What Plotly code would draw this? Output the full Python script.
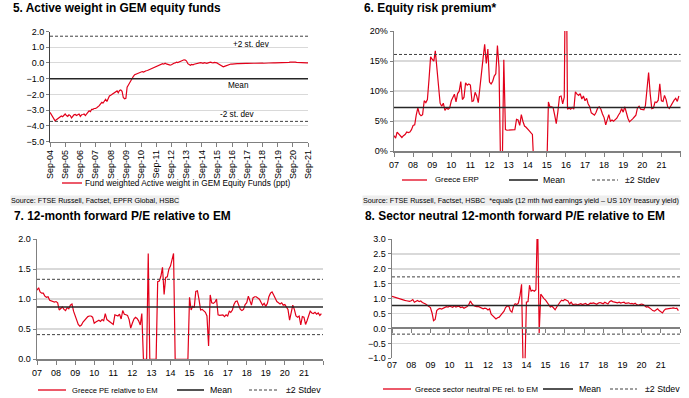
import pandas as pd
import plotly.graph_objects as go

W, H = 689, 398
FONT = "Liberation Sans, Arial, sans-serif"
RED = "#E2001A"
GRID = "#d9d9d9"

# ---------------- Panel 5: Active weight in GEM equity funds ----------------
aw_dates = pd.date_range("2004-09-01", "2021-09-01", freq="MS")
aw_values = [
    -3.15, -3.30, -3.45, -3.60, -3.68, -3.62, -3.55, -3.50, -3.45, -3.38, -3.42, -3.30,
    -3.25, -3.35, -3.40, -3.30, -3.35, -3.50, -3.38, -3.30, -3.28, -3.35, -3.30, -3.25,
    -3.40, -3.30, -3.28, -3.25, -3.35, -3.20, -3.15, -3.05, -3.10, -2.95, -2.95, -2.90,
    -2.90, -2.85, -2.80, -2.72, -2.60, -2.50, -2.55, -2.38, -2.32, -2.45, -2.25, -2.10,
    -2.05, -2.00, -1.95, -1.85, -1.80, -1.78, -1.90, -1.75, -1.72, -1.80, -2.20, -2.28,
    -2.25, -1.55, -1.40, -1.25, -1.10, -1.00, -0.85, -0.75, -0.72, -0.70, -0.65, -0.60,
    -0.60, -0.55, -0.58, -0.52, -0.50, -0.48, -0.45, -0.40, -0.38, -0.32, -0.30, -0.28,
    -0.25, -0.20, -0.15, -0.12, -0.08, -0.05, -0.08, -0.02, -0.06, -0.10, -0.12, -0.14,
    -0.12, -0.05, -0.02, 0.00, 0.05, 0.02, 0.06, 0.10, 0.12, 0.15, 0.20, 0.18,
    0.12, -0.05, -0.12, -0.15, -0.10, -0.12, -0.08, -0.05, -0.06, -0.02, 0.00, 0.02,
    0.00, -0.02, 0.02, 0.00, -0.03, 0.00, 0.03, 0.05, 0.02, 0.00, 0.03, 0.02,
    0.00, -0.05, -0.10, -0.12, -0.20, -0.25, -0.22, -0.18, -0.14, -0.10, -0.08, -0.07,
    -0.08, -0.06, -0.05, -0.06, -0.04, -0.05, -0.04, -0.03, -0.05, -0.03, -0.02, -0.03,
    -0.03, -0.02, -0.03, -0.02, -0.01, -0.02, -0.02, -0.01, -0.02, -0.01, -0.01, -0.02,
    -0.01, -0.02, -0.01, 0.00, -0.01, 0.00, 0.00, -0.01, 0.00, 0.01, 0.00, 0.00,
    0.00, 0.00, 0.01, 0.00, 0.01, 0.02, 0.01, 0.02, 0.03, 0.04, 0.05, 0.06,
    0.06, 0.05, 0.05, 0.04, 0.03, 0.02, 0.02, 0.01, 0.01, 0.00, 0.00, 0.00, 0.00,
]
aw_mean, aw_plus2, aw_minus2 = -1.0, 1.7, -3.72
aw_tick_years = list(range(2004, 2022))
aw_ticktext = ["Sep-%02d" % (y % 100) for y in aw_tick_years]
aw_tickvals = ["%d-09-01" % y for y in aw_tick_years]

# ---------------- shared monthly axis 2007-2021 ----------------
m_dates = pd.date_range("2007-01-01", "2021-12-01", freq="MS")
yr_list = list(range(2007, 2023))
yr_tickvals = ["%d-01-01" % y for y in yr_list]
yr_ticktext = ["%02d" % (y % 100) for y in yr_list[:-1]] + [""]

# ---------------- Panel 6: Equity risk premium (%) ----------------
erp_values = [
    2.6, 2.2, 3.2, 2.9, 2.5, 2.3, 2.6, 2.8, 3.2, 3.1, 3.2, 3.6,
    4.3, 4.4, 6.0, 7.2, 6.2, 5.9, 6.1, 8.4, 8.1, 8.6, 12.0, 15.7,
    15.3, 15.0, 16.7, 13.5, 10.5, 8.0, 7.5, 8.0, 6.8, 7.2, 7.0, 7.2,
    8.4, 9.0, 9.5, 8.2, 9.6, 10.0, 11.6, 8.6, 9.0, 11.4, 11.0, 11.2,
    11.0, 8.3, 8.4, 9.8, 9.2, 8.1, 10.2, 13.3, 15.5, 17.8, 14.6, 17.0,
    11.5, 11.2, 11.6, 12.5, 12.9, 17.6, 14.0, -3.0, -3.0, 15.2, 3.6, 3.5,
    3.5, 3.5, 3.5, 3.5, 3.6, 5.3, 5.2, 4.3, 6.1, 5.0, 4.2, 4.0,
    3.6, 3.4, 3.1, 2.8, -3.0, -3.0, -3.0, -3.0, -3.0, -3.0, -3.0, -3.0,
    -3.0, 8.2, 7.4, 7.4, 7.3, 6.0, 4.6, 6.6, 9.1, 9.2, 7.9, 9.0,
    40.0, 7.0, 7.2, 7.0, 7.3, 7.0, 9.9, 9.5, 9.3, 9.6, 8.7, 9.2,
    8.4, 8.8, 7.9, 7.4, 6.4, 6.2, 6.0, 6.5, 7.2, 7.4, 7.0, 6.2,
    5.6, 4.4, 5.2, 6.1, 5.0, 5.2, 5.0, 5.3, 5.5, 6.0, 6.4, 7.1,
    6.5, 7.4, 6.4, 5.5, 4.9, 5.1, 5.4, 5.7, 6.0, 7.2, 7.5, 7.0,
    6.9, 6.9, 7.6, 11.0, 13.1, 9.5, 7.1, 7.2, 8.2, 8.1, 8.5, 11.2,
    8.4, 8.3, 9.3, 8.6, 7.4, 7.1, 7.6, 8.0, 8.5, 8.8, 8.3, 9.2,
]
erp_mean, erp_plus2, erp_minus2 = 7.3, 16.1, -1.5

# ---------------- Panel 7: 12m fwd P/E relative to EM ----------------
pe_values = [
    1.15, 1.19, 1.12, 1.10, 1.10, 1.05, 1.03, 1.04, 0.98, 0.97, 0.97, 0.95,
    0.96, 0.94, 0.82, 0.85, 0.87, 0.83, 0.81, 0.86, 0.84, 0.90, 0.92, 0.80,
    0.72, 0.65, 0.58, 0.55, 0.57, 0.62, 0.65, 0.67, 0.71, 0.72, 0.72, 0.70,
    0.60, 0.62, 0.63, 0.65, 0.63, 0.66, 0.64, 0.76, 0.66, 0.64, 0.61, 0.60,
    0.58, 0.74, 0.73, 0.72, 0.75, 0.67, 0.81, 0.75, 0.74, 0.73, 0.66, 0.52,
    0.60, 0.67, 0.70, 0.68, 0.64, 0.57, 0.76, 0.00, 0.00, 0.00, 1.76, 0.00,
    0.00, 0.00, 0.00, 0.00, 1.29, 1.30, 1.38, 1.53, 1.08, 1.36, 1.37, 1.50,
    1.55, 1.68, 1.76, 0.00, 0.00, 0.00, 0.00, 0.00, 0.00, 0.00, 0.00, 0.00,
    1.03, 0.82, 0.88, 0.86, 1.13, 1.14, 1.00, 0.82, 0.83, 0.80, 0.78, 0.72,
    0.22, 1.07, 0.94, 0.93, 0.95, 1.00, 0.74, 0.73, 0.73, 0.74, 0.71, 0.74,
    0.72, 0.80, 0.78, 0.82, 0.91, 0.96, 0.97, 0.88, 0.83, 0.81, 0.83, 0.91,
    0.94, 1.05, 0.98, 0.90, 1.02, 1.04, 1.04, 1.02, 1.00, 0.95, 0.90, 0.93,
    0.88, 0.93, 1.04, 1.10, 1.12, 1.07, 1.02, 0.96, 0.94, 0.92, 0.94, 0.90,
    0.91, 0.87, 0.83, 0.65, 0.80, 0.90, 0.83, 0.72, 0.70, 0.72, 0.57, 0.71,
    0.70, 0.58, 0.64, 0.72, 0.80, 0.77, 0.76, 0.78, 0.75, 0.77, 0.73, 0.76,
]
pe_mean, pe_plus2, pe_minus2 = 0.87, 1.33, 0.41

# ---------------- Panel 8: Sector neutral 12m fwd P/E relative to EM ----------------
sn_values = [
    1.08, 1.06, 1.05, 1.03, 1.01, 0.99, 0.97, 0.96, 0.94, 0.93, 0.92, 0.91,
    0.93, 0.97, 0.88, 0.90, 0.94, 0.90, 0.92, 0.87, 0.85, 0.82, 0.78, 0.74,
    0.70, 0.52, 0.26, 0.30, 0.60, 0.65, 0.67, 0.65, 0.68, 0.71, 0.73, 0.72,
    0.75, 0.73, 0.71, 0.76, 0.72, 0.74, 0.74, 0.70, 0.72, 0.68, 0.71, 0.74,
    0.80, 0.92, 0.83, 0.77, 0.75, 0.73, 0.74, 0.71, 0.70, 0.66, 0.68, 0.67,
    0.62, 0.66, 0.48, 0.42, 0.38, 0.32, 0.36, 0.38, 0.45, 0.50, 0.58, 0.70,
    0.76, 0.75, 0.60, 0.55, 0.75, 0.83, 0.80, 0.85, 1.10, 1.48, -1.50, -1.50,
    0.88, 0.90, 1.45, 1.25, 1.28, 1.25, 1.30, 3.80, -0.15, 1.15, 1.05, 1.00,
    0.95, 0.88, 0.80, 0.72, 0.75, 0.68, 0.63, 0.72, 0.82, 0.88, 0.95, 0.93,
    0.97, 0.93, 0.92, 0.82, 0.88, 0.80, 0.80, 0.82, 0.79, 0.81, 0.83, 0.80,
    0.82, 0.84, 0.80, 0.81, 0.85, 0.84, 0.86, 0.83, 0.81, 0.85, 0.87, 0.85,
    0.83, 0.88, 0.85, 0.82, 0.90, 0.93, 0.90, 0.89, 0.88, 0.86, 0.88, 0.85,
    0.87, 0.88, 0.84, 0.85, 0.86, 0.83, 0.84, 0.82, 0.85, 0.80, 0.78, 0.80,
    0.82, 0.80, 0.76, 0.72, 0.73, 0.70, 0.65, 0.60, 0.58, 0.62, 0.66, 0.60,
    0.55, 0.52, 0.60, 0.65, 0.66, 0.66, 0.67, 0.68, 0.69, 0.67, 0.68, 0.60,
]
sn_mean, sn_plus2, sn_minus2 = 0.77, 1.73, -0.19

assert len(aw_values) == len(aw_dates)
assert len(erp_values) == len(m_dates) == len(pe_values) == len(sn_values)

titles = [
    "5. Active weight in GEM equity funds",
    "6. Equity risk premium*",
    "7. 12-month forward P/E relative to EM",
    "8. Sector neutral 12-month forward P/E relative to EM",
]
sources = [
    "Source: FTSE Russell, Factset, EPFR Global, HSBC",
    "Source: FTSE Russell, Factset, HSBC  *equals (12 mth fwd earnings yield \u2013 US 10Y treasury yield)",
]


def px(x):
    return x / W


def py(y):
    return 1 - y / H


fig = go.Figure()
line_style = dict(color=RED, width=1.2)
fig.add_trace(go.Scatter(x=aw_dates, y=aw_values, mode="lines", line=line_style, xaxis="x", yaxis="y"))
fig.add_trace(go.Scatter(x=m_dates, y=erp_values, mode="lines", line=line_style, xaxis="x2", yaxis="y2"))
fig.add_trace(go.Scatter(x=m_dates, y=pe_values, mode="lines", line=line_style, xaxis="x3", yaxis="y3"))
fig.add_trace(go.Scatter(x=m_dates, y=sn_values, mode="lines", line=line_style, xaxis="x4", yaxis="y4"))
# invisible trace for the zero-crossing tick axis of panel 8
fig.add_trace(go.Scatter(x=m_dates, y=sn_values, mode="lines", line=dict(width=0), opacity=0,
                         hoverinfo="skip", xaxis="x5", yaxis="y4"))

tickfont = dict(family=FONT, size=9, color="#000")

# domains (from pixel boxes)
d5x, d5y = [px(50), px(308)], [py(141.5), py(31.5)]
d6x, d6y = [px(394), px(680.5)], [py(151.3), py(31)]
d7x, d7y = [px(37), px(323)], [py(359.3), py(239)]
d8x, d8y = [px(392), px(680)], [py(358.3), py(239)]

yax_common = dict(showgrid=True, gridcolor=GRID, zeroline=False, ticks="outside", ticklen=3,
                  tickcolor="#808080", showline=True, tickfont=tickfont, fixedrange=True,
                  automargin=False)
xax_common = dict(showgrid=False, zeroline=False, ticklen=4, tickcolor="#808080",
                  tickfont=tickfont, type="date", tickmode="array", automargin=False)

fig.update_layout(
    template="none",
    width=W, height=H, margin=dict(l=0, r=0, t=0, b=0, pad=0), autosize=False,
    paper_bgcolor="white", plot_bgcolor="white", showlegend=False,
    font=dict(family=FONT, color="#000"),
    xaxis=dict(domain=d5x, anchor="y", range=["2004-09-01", "2021-09-01"], tickvals=aw_tickvals,
               ticktext=aw_ticktext, tickangle=-90, ticks="outside", showline=True, linecolor="#808080",
               linewidth=1, **xax_common),
    yaxis=dict(domain=d5y, anchor="x", range=[-5, 2], dtick=1, tickformat=".1f",
               linecolor="#404040", linewidth=1, gridwidth=1, **yax_common),
    xaxis2=dict(domain=d6x, anchor="y2", range=["2007-01-01", "2022-01-01"], tickvals=yr_tickvals,
                ticktext=yr_ticktext, ticks="outside", showline=True, linecolor="#808080", linewidth=1.5,
                **xax_common),
    yaxis2=dict(domain=d6y, anchor="x2", range=[0, 20], dtick=5, ticksuffix="%",
                linecolor="#808080", linewidth=1.5, gridwidth=1.5, **yax_common),
    xaxis3=dict(domain=d7x, anchor="y3", range=["2007-01-01", "2022-01-01"], tickvals=yr_tickvals,
                ticktext=yr_ticktext, ticks="outside", showline=True, linecolor="#808080", linewidth=1.5,
                **xax_common),
    yaxis3=dict(domain=d7y, anchor="x3", range=[0, 2], dtick=0.5, tickformat=".1f",
                linecolor="#808080", linewidth=1.5, gridwidth=2, **yax_common),
    xaxis4=dict(domain=d8x, anchor="y4", range=["2007-01-01", "2022-01-01"], tickvals=yr_tickvals,
                ticktext=yr_ticktext, ticks="", showline=False, **xax_common),
    yaxis4=dict(domain=d8y, anchor="x4", range=[-1, 3], dtick=0.5, tickformat=".1f",
                linecolor="#808080", linewidth=1.5, gridwidth=1.5, **yax_common),
    xaxis5=dict(overlaying="x4", anchor="free",
                position=d8y[0] + (0 - (-1)) / (3 - (-1)) * (d8y[1] - d8y[0]),
                range=["2007-01-01", "2022-01-01"], tickvals=yr_tickvals, ticktext=[""] * len(yr_tickvals),
                showline=True, linecolor="#808080", linewidth=2, showticklabels=False,
                showgrid=False, zeroline=False, ticks="outside", ticklen=4, tickcolor="#808080",
                type="date", automargin=False),
)

shapes = []


def hline(xa, ya, val, dash=None, color="#000", width=1.5):
    d = dict(type="line", xref=xa + " domain", yref=ya, x0=0, x1=1, y0=val, y1=val,
             line=dict(color=color, width=width), layer="above")
    if dash:
        d["line"]["dash"] = dash
    shapes.append(d)


DASH = "3px,2px"
for xa, ya, mean, p2, m2, rng in [
    ("x", "y", aw_mean, aw_plus2, aw_minus2, (-5, 2)),
    ("x2", "y2", erp_mean, erp_plus2, erp_minus2, (0, 20)),
    ("x3", "y3", pe_mean, pe_plus2, pe_minus2, (0, 2)),
    ("x4", "y4", sn_mean, sn_plus2, sn_minus2, (-1, 3)),
]:
    hline(xa, ya, mean, color="#262626", width=1.5)
    for v in (p2, m2):
        if rng[0] <= v <= rng[1]:
            hline(xa, ya, v, dash=DASH, color="#404040", width=1)

annotations = []


def text(x, y, s, size=8, anchor="left", bold=False, bg=None, yanchor="middle"):
    a = dict(xref="paper", yref="paper", x=px(x), y=py(y), text=("<b>%s</b>" % s) if bold else s,
             showarrow=False, xanchor=anchor, yanchor=yanchor,
             font=dict(family=FONT, size=size, color="#000"))
    if bg:
        a["bgcolor"] = bg
        a["borderpad"] = 0
    annotations.append(a)


# titles
TS = 11.9
text(11, 8, titles[0], size=TS, bold=True)
text(362, 8, titles[1], size=TS, bold=True)
text(12, 216, titles[2], size=TS, bold=True)
text(363, 216, titles[3], size=TS, bold=True)

# sources
text(10, 200.5, sources[0], size=7.2, bg="#eeeeee")
text(362, 200.5, sources[1], size=7.2, bg="#eeeeee")

# panel 5 band labels
text(251, 44, "+2 st. dev", size=8.2, anchor="center")
text(238, 86, "Mean", size=8.2, anchor="center")
text(237, 115, "-2 st. dev", size=8.2, anchor="center")


def legend_line(x0, x1, y, color, width, dash=None):
    d = dict(type="line", xref="paper", yref="paper", x0=px(x0), x1=px(x1), y0=py(y), y1=py(y),
             line=dict(color=color, width=width))
    if dash:
        d["line"]["dash"] = dash
    shapes.append(d)


LS_LONG = 7.8
LS_SHORT = 8.8
# panel 5 legend
legend_line(62, 82, 183, RED, 1.3)
text(83, 183, "Fund weighted Active weight in GEM Equity Funds (ppt)", size=8.3)
# panel 6 legend
legend_line(402, 427, 180, RED, 1.3)
text(433, 180, "Greece ERP", size=LS_LONG)
legend_line(509, 538, 180, "#404040", 1.8)
text(541, 180, "Mean", size=LS_SHORT)
legend_line(592, 618, 180, "#404040", 1, DASH)
text(623, 180, "\u00b12 Stdev", size=LS_SHORT)
# panel 7 legend
legend_line(38, 66, 390, RED, 1.3)
text(70, 390, "Greece PE relative to EM", size=7.6)
legend_line(177, 204, 390, "#404040", 1.8)
text(208, 390, "Mean", size=LS_SHORT)
legend_line(249, 279, 390, "#404040", 1, DASH)
text(284, 390, "\u00b12 Stdev", size=LS_SHORT)
# panel 8 legend
legend_line(383, 411, 389, RED, 1.3)
text(413, 389, "Greece sector neutral PE rel. to EM", size=LS_LONG)
legend_line(543, 573, 389, "#404040", 1.8)
text(577, 389, "Mean", size=LS_SHORT)
legend_line(610, 637, 389, "#404040", 1, DASH)
text(643, 389, "\u00b12 Stdev", size=LS_SHORT)

fig.update_layout(shapes=shapes, annotations=annotations)
fig.write_html("out.html", config={"displayModeBar": False, "staticPlot": True},
               post_script="document.body.style.margin='0';document.body.style.overflow='hidden';")
